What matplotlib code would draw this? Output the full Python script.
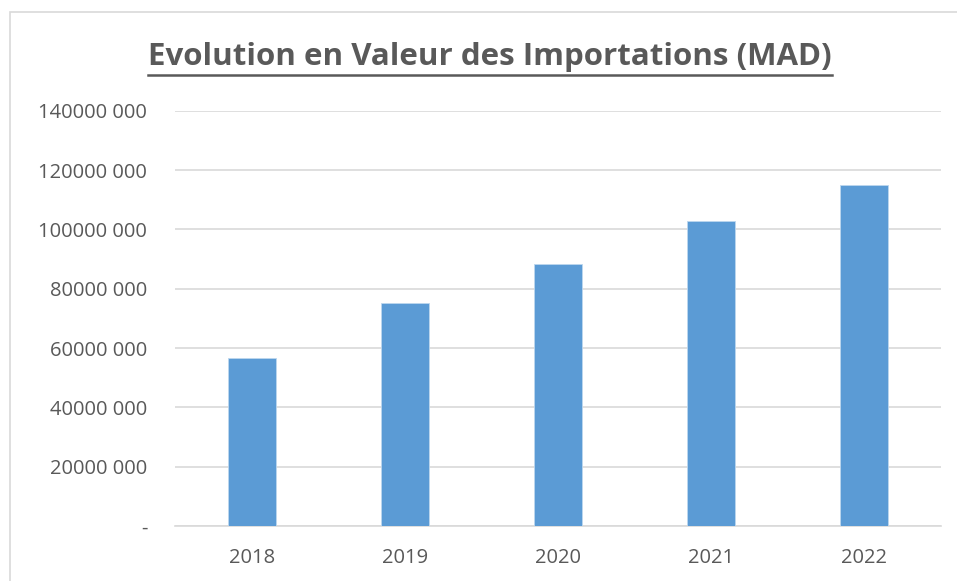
import matplotlib.pyplot as plt
from matplotlib.patches import Rectangle

plt.rcParams['font.family'] = ['Open Sans', 'DejaVu Sans']

years = ['2018', '2019', '2020', '2021', '2022']
values = [56500000, 75100000, 88200000, 102700000, 115100000]
y_ticks = [0, 20000000, 40000000, 60000000, 80000000, 100000000, 120000000, 140000000]
y_labels = ['-', '20000 000', '40000 000', '60000 000', '80000 000',
            '100000 000', '120000 000', '140000 000']
title = 'Evolution en Valeur des Importations (MAD)'

fig = plt.figure(figsize=(9.57, 5.81), dpi=100)
ax = fig.add_axes([175/957, 55/581, 766/957, 415.3/581])

x = range(len(years))
ax.bar(x, values, width=0.314, color='#5B9BD5', edgecolor='#BDD7EE', linewidth=0.6, zorder=3)

ax.set_xlim(-0.5, 4.5)
ax.set_ylim(0, 140000000)
ax.set_yticks(y_ticks)
ax.set_yticklabels(y_labels)
ax.set_xticks(list(x))
ax.set_xticklabels(years)
ax.tick_params(axis='both', length=0, labelsize=14.5, colors='#595959')
ax.tick_params(axis='y', pad=20)
ax.tick_params(axis='x', pad=16)
ax.grid(axis='y', color='#D9D9D9', linewidth=1.2, zorder=0)
for s in ['left', 'right', 'top']:
    ax.spines[s].set_visible(False)
ax.spines['bottom'].set_color('#D9D9D9')
ax.spines['bottom'].set_linewidth(1.2)

# title with underline
t = fig.text(490/957, 1 - 57/581, title, ha='center', va='center',
             fontsize=22.5, fontweight='bold', color='#595959')
fig.canvas.draw()
bb = t.get_window_extent().transformed(fig.transFigure.inverted())
fig.add_artist(plt.Line2D([bb.x0, bb.x1], [1 - 75/581, 1 - 75/581],
                          transform=fig.transFigure, color='#595959', linewidth=1.8))

# chart border
fig.add_artist(Rectangle((10/957, -0.05), 1.2, 1 - 12/581 + 0.05, transform=fig.transFigure,
                         fill=False, edgecolor='#D9D9D9', linewidth=1.2))

fig.savefig('out.png', dpi=100)
